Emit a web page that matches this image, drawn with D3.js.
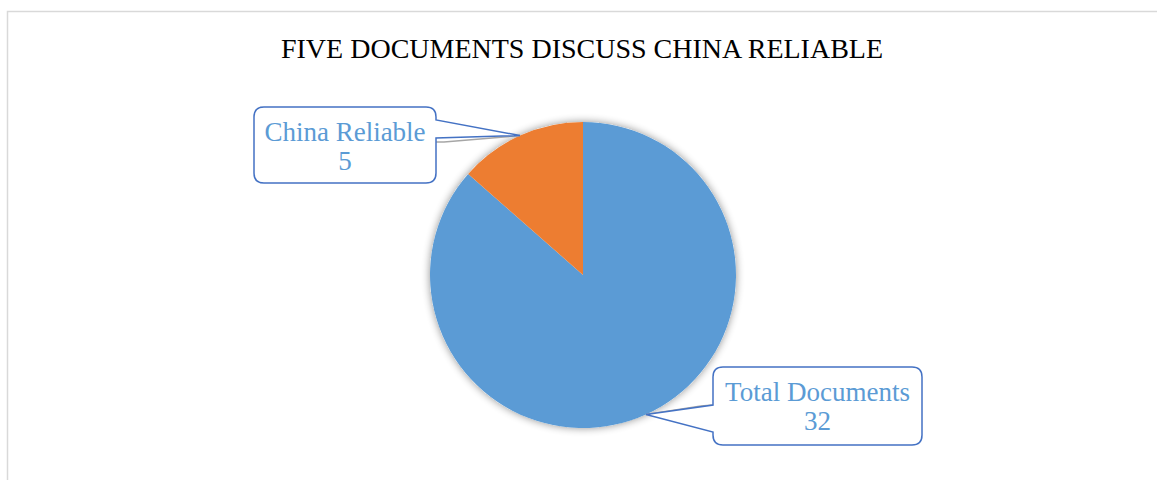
<!DOCTYPE html>
<html><head><meta charset="utf-8">
<script src="https://cdn.jsdelivr.net/npm/d3@7/dist/d3.min.js"></script>
<style>body{margin:0;background:#fff;}svg{display:block;}</style>
</head><body>
<svg id="c" width="1157" height="480"></svg>
<script>
const categories = ["Total Documents", "China Reliable"];
const values = [32, 5];
const colors = ["#5b9bd5", "#ed7d31"];
const title = "FIVE DOCUMENTS DISCUSS CHINA RELIABLE";

const svg = d3.select("#c");
svg.append("rect").attr("x", 7.5).attr("y", 11.5).attr("width", 1160).attr("height", 480)
  .attr("fill", "#fff").attr("stroke", "#d9d9d9").attr("stroke-width", 1.5);

const font = "'Liberation Serif','Times New Roman',serif";
svg.append("text").attr("x", 582).attr("y", 58).attr("text-anchor", "middle")
  .attr("font-family", font).attr("font-size", 28)
  .attr("fill", "#000").text(title);

const defs = svg.append("defs");
const f = defs.append("filter").attr("id", "sh").attr("x", "-20%").attr("y", "-20%").attr("width", "140%").attr("height", "140%");
f.append("feGaussianBlur").attr("in", "SourceAlpha").attr("stdDeviation", 4).attr("result", "b");
f.append("feComponentTransfer").attr("in", "b").attr("result", "b2")
  .append("feFuncA").attr("type", "linear").attr("slope", 0.45);
const m = f.append("feMerge");
m.append("feMergeNode").attr("in", "b2");
m.append("feMergeNode").attr("in", "SourceGraphic");

const cx = 583, cy = 275, R = 153;
const pie = d3.pie().sort(null).value(d => d)(values);
const arc = d3.arc().innerRadius(0).outerRadius(R);
const g = svg.append("g").attr("transform", `translate(${cx},${cy})`);
g.append("circle").attr("r", R).attr("fill", "#fff").attr("filter", "url(#sh)");
g.selectAll("path").data(pie).join("path").attr("d", arc).attr("fill", (d, i) => colors[i]);

// callouts
const boxes = [
  {x: 713, y: 367, w: 209, h: 78, side: "left", a: 405, b: 432},
  {x: 254, y: 107, w: 182, h: 76, side: "right", a: 120, b: 138}
];
pie.forEach((p, i) => {
  const mid = (p.startAngle + p.endAngle) / 2;
  const tx = cx + R * Math.sin(mid), ty = cy - R * Math.cos(mid);
  const bx = boxes[i];
  const r = 10;
  const {x, y, w, h} = bx;
  let d;
  if (bx.side === "left") {
    d = `M${x + r},${y} H${x + w - r} Q${x + w},${y} ${x + w},${y + r} V${y + h - r} Q${x + w},${y + h} ${x + w - r},${y + h} H${x + r} Q${x},${y + h} ${x},${y + h - r} V${bx.b} L${tx},${ty} L${x},${bx.a} V${y + r} Q${x},${y} ${x + r},${y} Z`;
  } else {
    d = `M${x + r},${y} H${x + w - r} Q${x + w},${y} ${x + w},${y + r} V${bx.a} L${tx},${ty} L${x + w},${bx.b} V${y + h - r} Q${x + w},${y + h} ${x + w - r},${y + h} H${x + r} Q${x},${y + h} ${x},${y + h - r} V${y + r} Q${x},${y} ${x + r},${y} Z`;
  }
  const lx = bx.side === "left" ? x : x + w;
  const ly = bx.side === "left" ? bx.a : bx.b + 4;
  const ex = bx.side === "left" ? x - 12 : x + w + 8;
  svg.append("path").attr("d", `M${tx},${ty} L${ex},${ly + (bx.side === "left" ? 1 : 0)} L${lx},${ly}`)
    .attr("fill", "none").attr("stroke", "#a6a6a6").attr("stroke-width", 1.5);
  svg.append("path").attr("d", d).attr("fill", "#fff").attr("stroke", "#4472c4").attr("stroke-width", 1.5);
  const t = svg.append("text").attr("text-anchor", "middle").attr("font-family", font)
    .attr("font-size", 27).attr("fill", "#5b9bd5");
  t.append("tspan").attr("x", x + w / 2).attr("y", y + 34).text(categories[i]);
  t.append("tspan").attr("x", x + w / 2).attr("y", y + 63).text(values[i]);
});
</script>
</body></html>
